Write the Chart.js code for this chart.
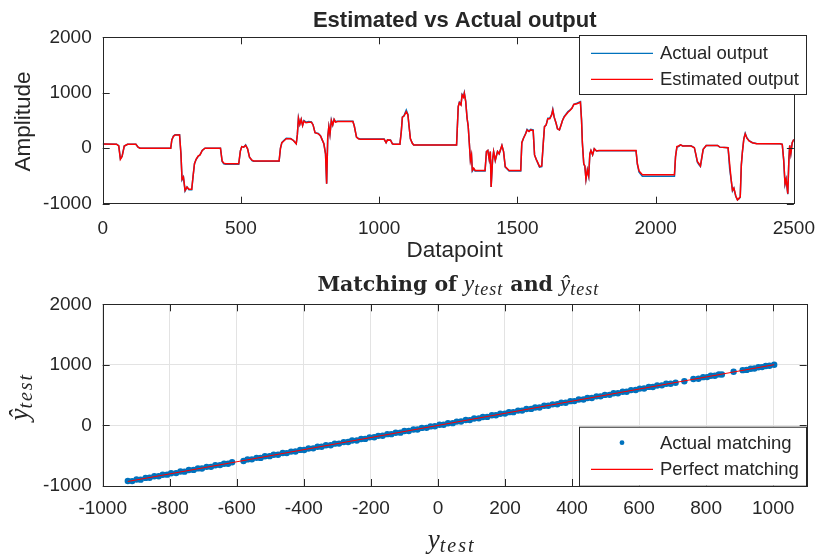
<!DOCTYPE html>
<html>
<head>
<meta charset="utf-8">
<script src="https://cdn.jsdelivr.net/npm/chart.js@4.4.1/dist/chart.umd.min.js"></script>
<style>
    html, body { margin: 0; padding: 0; background: #fff; }
    #wrap { position: relative; width: 829px; height: 554px; overflow: hidden; }
    canvas { position: absolute; left: 0; }
    #topChart { top: 0; }
    #bottomChart { top: 265px; }
</style>
</head>
<body>
<div id="wrap">
    <canvas id="topChart" width="829" height="265"></canvas>
    <canvas id="bottomChart" width="829" height="289"></canvas>
</div>
<script>
'use strict';

// ── Data ────────────────────────────────────────────────────────────────────
const sampleIndex = [
    0, 50, 58, 64, 70, 78, 90, 120, 128, 135, 246, 250, 256, 262, 278, 283, 287, 292, 298, 305,
    312, 322, 327, 332, 338, 345, 352, 360, 370, 426, 432, 438, 445, 492, 498, 503, 510, 517, 524, 531,
    540, 546, 638, 643, 648, 655, 664, 680, 690, 700, 704, 708, 713, 718, 723, 728, 735, 745, 755, 761,
    768, 780, 788, 794, 800, 806, 810, 814, 818, 822, 827, 832, 837, 842, 850, 905, 910, 918, 925, 932,
    1018, 1025, 1030, 1041, 1048, 1054, 1075, 1080, 1084, 1090, 1098, 1104, 1108, 1113, 1120, 1125, 1280, 1286, 1290, 1296,
    1300, 1305, 1308, 1313, 1318, 1322, 1326, 1330, 1334, 1337, 1342, 1347, 1383, 1388, 1393, 1398, 1402, 1405, 1410, 1414,
    1420, 1428, 1434, 1444, 1450, 1456, 1462, 1470, 1512, 1516, 1522, 1530, 1535, 1542, 1548, 1557, 1562, 1568, 1573, 1580,
    1588, 1594, 1598, 1604, 1610, 1617, 1624, 1628, 1633, 1640, 1645, 1652, 1658, 1663, 1669, 1675, 1683, 1690, 1697, 1704,
    1715, 1728, 1732, 1735, 1740, 1744, 1748, 1753, 1758, 1762, 1766, 1772, 1778, 1786, 1795, 1929, 1934, 1940, 1952, 2068,
    2072, 2077, 2083, 2090, 2098, 2110, 2128, 2140, 2146, 2151, 2157, 2162, 2166, 2172, 2183, 2224, 2232, 2262, 2268, 2273,
    2278, 2283, 2290, 2296, 2302, 2306, 2310, 2314, 2319, 2324, 2330, 2338, 2350, 2365, 2450, 2458, 2463, 2468, 2472, 2478,
    2482, 2485, 2489, 2494, 2500
];
const actualOutput = [
    75, 72, 45, -190, -150, 40, 72, 72, 20, 0, 0, 150, 220, 245, 245, -100, -570, -520, -770, -700,
    -750, -750, -500, -280, -200, -150, -120, -40, 0, 0, -240, -280, -290, -290, -50, 30, 20, 60, -10, -160,
    -225, -235, -235, 0, 100, 140, 180, 175, 140, 80, 240, 550, 430, 520, 410, 500, 470, 480, 475, 420,
    280, 265, 220, 150, 80, -100, -640, 200, 390, 250, 510, 420, 520, 480, 485, 485, 400, 200, 175, 165,
    165, 100, 150, 150, 80, 70, 70, 300, 560, 590, 690, 610, 400, 170, 90, 60, 60, 750, 830, 790,
    970, 930, 1000, 850, 540, 400, 100, -220, -130, -410, -370, -410, -410, -60, -40, -200, -60, -700, -220, -60,
    -220, -60, -100, 50, -60, -340, -370, -410, -410, 100, 180, 270, 340, 310, 340, 330, -120, -200, -260, -340,
    -330, 120, 390, 420, 540, 540, 610, 700, 560, 450, 350, 330, 420, 500, 570, 610, 660, 690, 720, 790,
    810, 840, 520, 100, -280, -330, -560, -390, -510, -100, -40, -120, -10, -50, -45, -45, -290, -430, -505, -505,
    -150, 20, 30, 60, 40, 45, 45, 10, -130, -250, -300, -330, -200, -20, 50, 50, 20, 10, -380, -560,
    -770, -720, -870, -930, -910, -880, -300, -60, 170, 270, 190, 135, 100, 85, 80, 70, -200, -650, -560, -830,
    -200, 50, -100, 100, 160
];
const estimatedOutput = [
    75, 72, 40, -200, -150, 40, 70, 70, 20, 0, 0, 150, 215, 240, 240, -100, -560, -520, -760, -700,
    -740, -740, -500, -280, -200, -140, -120, -40, 0, 0, -230, -270, -280, -280, -50, 30, 20, 50, -10, -160,
    -215, -230, -230, 0, 100, 130, 170, 170, 140, 80, 240, 540, 430, 520, 410, 490, 460, 470, 470, 420,
    280, 260, 220, 150, 80, -100, -640, 200, 390, 250, 500, 420, 520, 470, 480, 480, 400, 200, 170, 160,
    160, 100, 150, 145, 80, 70, 70, 300, 560, 580, 660, 600, 400, 170, 90, 60, 60, 750, 820, 780,
    960, 920, 990, 840, 540, 400, 100, -220, -120, -400, -360, -400, -400, -60, -40, -200, -60, -700, -220, -60,
    -220, -60, -100, 50, -60, -330, -360, -400, -400, 100, 180, 260, 330, 300, 330, 320, -120, -200, -250, -330,
    -320, 120, 390, 420, 530, 530, 600, 690, 560, 450, 350, 330, 420, 500, 560, 600, 650, 680, 720, 790,
    800, 830, 500, 100, -280, -320, -560, -390, -500, -100, -40, -120, -10, -50, -40, -40, -280, -410, -480, -480,
    -150, 30, 40, 60, 40, 40, 40, 10, -120, -240, -280, -320, -200, -20, 50, 50, 20, 10, -300, -560,
    -760, -720, -860, -930, -900, -880, -300, -60, 170, 260, 180, 130, 100, 80, 80, 70, -200, -640, -560, -820,
    -200, 50, -100, 100, 160
];
const indexTicks = [0, 500, 1000, 1500, 2000, 2500];
const amplitudeTicks = [-1000, 0, 1000, 2000];

const matchTest = [
    -925, -912, -899, -887, -872, -860, -846, -833, -821, -808, -796, -781, -768, -756, -743, -729, -716, -704, -690, -677,
    -664, -650, -638, -626, -614, -580, -568, -555, -541, -529, -516, -502, -490, -477, -463, -451, -438, -425, -411, -399,
    -386, -372, -359, -347, -334, -320, -308, -295, -281, -268, -256, -242, -229, -217, -204, -190, -178, -165, -151, -139,
    -126, -112, -100, -87, -73, -61, -48, -34, -22, -9, 5, 17, 30, 44, 56, 69, 83, 95, 108, 122,
    134, 147, 161, 173, 186, 200, 212, 225, 239, 251, 264, 278, 290, 303, 317, 329, 342, 356, 368, 381,
    395, 407, 420, 434, 446, 459, 473, 485, 498, 512, 524, 537, 551, 563, 576, 590, 602, 615, 629, 641,
    654, 668, 681, 694, 709, 735, 762, 777, 791, 803, 814, 826, 838, 847, 882, 909, 921, 933, 944, 956,
    967, 978, 989, 1003
];
const matchEst = [
    -918, -919, -893, -895, -866, -864, -838, -840, -815, -813, -789, -787, -761, -763, -737, -734, -709, -710, -684, -684,
    -657, -655, -632, -632, -608, -586, -561, -560, -535, -536, -509, -507, -484, -483, -456, -457, -432, -430, -404, -405,
    -380, -378, -352, -352, -328, -327, -301, -300, -275, -274, -249, -248, -223, -222, -197, -196, -172, -171, -144, -144,
    -120, -119, -93, -92, -67, -67, -41, -40, -16, -14, 12, 11, 36, 38, 63, 64, 89, 88, 115, 117,
    140, 141, 168, 167, 192, 195, 219, 219, 245, 245, 271, 273, 296, 296, 324, 324, 348, 350, 375, 375,
    401, 402, 427, 428, 452, 453, 480, 480, 504, 505, 531, 532, 557, 557, 583, 584, 608, 610, 636, 635,
    660, 662, 688, 689, 704, 729, 766, 771, 797, 798, 820, 821, 843, 842, 886, 913, 917, 937, 940, 960,
    963, 982, 985, 1001
];
const perfectLine = [-925, 1003];
const matchTicksX = [-1000, -800, -600, -400, -200, 0, 200, 400, 600, 800, 1000];
const matchTicksY = [-1000, 0, 1000, 2000];

// ── Styling ─────────────────────────────────────────────────────────────────
const INK = '#262626';
const BLUE = '#0072bd';
const RED = '#ff0000';
const SANS = '"Liberation Sans", Arial, sans-serif';
const MATH = '"Liberation Serif", "Times New Roman", serif';
const BOLD_SERIF = '"DejaVu Serif", serif';

Chart.defaults.font.family = SANS;
Chart.defaults.color = INK;

const plainNumber = v => String(v);   // MATLAB prints 2000, not 2,000

function drawRuns(ctx, runs, cx, base) {
    let w = 0;
    runs.forEach(r => {
        ctx.font = r.font;
        ctx.letterSpacing = r.sp ? r.sp + 'px' : '0px';
        r.w = ctx.measureText(r.text).width;
        w += r.w;
    });
    let x = cx - w / 2;
    ctx.textAlign = 'left';
    ctx.textBaseline = 'alphabetic';
    runs.forEach(r => {
        ctx.font = r.font;
        ctx.letterSpacing = r.sp ? r.sp + 'px' : '0px';
        ctx.fillText(r.text, x, base + (r.dy || 0));
        x += r.w;
    });
    ctx.letterSpacing = '0px';
}

function drawLegend(ctx, box, items) {
    ctx.fillStyle = '#fff';
    ctx.fillRect(box.x, box.y, box.w, box.h);
    ctx.strokeStyle = INK;
    ctx.lineWidth = 1;
    ctx.strokeRect(box.x + 0.5, box.y + 0.5, box.w, box.h);
    items.forEach(it => {
        if (it.kind === 'line') {
            ctx.strokeStyle = it.color;
            ctx.lineWidth = 1.2;
            ctx.beginPath();
            ctx.moveTo(box.x + 12, it.y);
            ctx.lineTo(box.x + 74, it.y);
            ctx.stroke();
        } else {
            ctx.fillStyle = it.color;
            ctx.beginPath();
            ctx.arc(box.x + 43, it.y, 2.4, 0, Math.PI * 2);
            ctx.fill();
        }
        ctx.fillStyle = INK;
        ctx.font = '18.5px ' + SANS;
        ctx.textAlign = 'left';
        ctx.textBaseline = 'middle';
        ctx.fillText(it.label, box.x + 81, it.y + 1);
    });
}

// box + inward ticks on all four sides, then legend and labels
const matlabAxes = {
    id: 'matlabAxes',
    afterDatasetsDraw(chart, args, opts) {
        const { ctx, chartArea: a, scales: { x, y } } = chart;
        ctx.save();
        ctx.strokeStyle = INK;
        ctx.lineWidth = 1;
        ctx.beginPath();
        x.ticks.forEach(t => {
            const px = Math.round(x.getPixelForValue(t.value)) + 0.5;
            ctx.moveTo(px, a.bottom); ctx.lineTo(px, a.bottom - 7);
            ctx.moveTo(px, a.top); ctx.lineTo(px, a.top + 7);
        });
        y.ticks.forEach(t => {
            const py = Math.round(y.getPixelForValue(t.value)) + 0.5;
            ctx.moveTo(a.left, py); ctx.lineTo(a.left + 7, py);
            ctx.moveTo(a.right, py); ctx.lineTo(a.right - 7, py);
        });
        ctx.stroke();
        ctx.strokeRect(Math.round(a.left) + 0.5, Math.round(a.top) + 0.5,
            Math.round(a.right - a.left), Math.round(a.bottom - a.top));
        drawLegend(ctx, opts.legendBox, opts.legendItems);
        ctx.fillStyle = INK;
        opts.labels(ctx);
        ctx.restore();
    }
};

function fixedScale(size, key) {
    return s => { s[key] = size; };
}

// ── Top: Estimated vs Actual output ─────────────────────────────────────────
new Chart(document.getElementById('topChart'), {
    type: 'line',
    data: {
        datasets: [
            {
                label: 'Estimated output',
                data: sampleIndex.map((t, i) => ({ x: t, y: estimatedOutput[i] })),
                borderColor: RED, borderWidth: 1.5, pointRadius: 0, tension: 0, order: 0
            },
            {
                label: 'Actual output',
                data: sampleIndex.map((t, i) => ({ x: t, y: actualOutput[i] })),
                borderColor: BLUE, borderWidth: 1.5, pointRadius: 0, tension: 0, order: 1
            }
        ]
    },
    options: {
        responsive: false, animation: false, devicePixelRatio: 1, events: [],
        layout: { padding: { left: 0, right: 22.3, top: 37.3, bottom: 0 } },
        plugins: {
            legend: { display: false }, tooltip: { enabled: false },
            matlabAxes: {
                legendBox: { x: 579, y: 35, w: 227, h: 59 },
                legendItems: [
                    { label: 'Actual output', color: BLUE, kind: 'line', y: 53.3 },
                    { label: 'Estimated output', color: RED, kind: 'line', y: 79.3 }
                ],
                labels(ctx) {
                    ctx.textAlign = 'center';
                    ctx.textBaseline = 'alphabetic';
                    ctx.font = 'bold 22px ' + SANS;
                    ctx.fillText('Estimated vs Actual output', 454.7, 26.7);
                    ctx.font = '22.5px ' + SANS;
                    ctx.fillText('Datapoint', 454.7, 257.3);
                    ctx.save();
                    ctx.translate(29.5, 121.5);
                    ctx.rotate(-Math.PI / 2);
                    ctx.fillText('Amplitude', 0, 0);
                    ctx.restore();
                }
            }
        },
        scales: {
            x: {
                type: 'linear', min: 0, max: 2500,
                afterBuildTicks: s => { s.ticks = indexTicks.map(v => ({ value: v })); },
                afterFit: fixedScale(61.3, 'height'),
                grid: { display: false, drawTicks: false }, border: { display: false },
                ticks: { font: { size: 19 }, color: INK, padding: 14, maxRotation: 0, callback: plainNumber }
            },
            y: {
                min: -1000, max: 2000,
                afterBuildTicks: s => { s.ticks = amplitudeTicks.map(v => ({ value: v })); },
                afterFit: fixedScale(102.7, 'width'),
                grid: { display: false, drawTicks: false }, border: { display: false },
                ticks: { font: { size: 19 }, color: INK, padding: 11, callback: plainNumber }
            }
        }
    },
    plugins: [matlabAxes]
});

// ── Bottom: Matching of y_test and ŷ_test ───────────────────────────────────
new Chart(document.getElementById('bottomChart'), {
    type: 'scatter',
    data: {
        datasets: [
            {
                label: 'Perfect matching',
                data: perfectLine.map(v => ({ x: v, y: v })),
                showLine: true, borderColor: RED, borderWidth: 1, pointRadius: 0, order: 0
            },
            {
                label: 'Actual matching',
                data: matchTest.map((v, i) => ({ x: v, y: matchEst[i] })),
                backgroundColor: BLUE, borderWidth: 0, pointRadius: 3.2, order: 1
            }
        ]
    },
    options: {
        responsive: false, animation: false, devicePixelRatio: 1, events: [],
        layout: { padding: { left: 0, right: 22.3, top: 39.3, bottom: 0 } },
        plugins: {
            legend: { display: false }, tooltip: { enabled: false },
            matlabAxes: {
                legendBox: { x: 579, y: 161.7, w: 227, h: 59 },
                legendItems: [
                    { label: 'Actual matching', color: BLUE, kind: 'dot', y: 177.7 },
                    { label: 'Perfect matching', color: RED, kind: 'line', y: 204.3 }
                ],
                labels(ctx) {
                    const bold = 'bold 20.5px ' + BOLD_SERIF;
                    const it = 'italic 23px ' + MATH;
                    const sub = 'italic 18px ' + MATH;
                    drawRuns(ctx, [
                        { text: 'Matching of ', font: bold },
                        { text: 'y', font: it },
                        { text: 'test', font: sub, dy: 4, sp: 1 },
                        { text: ' and ', font: bold },
                        { text: 'ŷ', font: it },
                        { text: 'test', font: sub, dy: 4, sp: 1 }
                    ], 458.3, 26);
                    const big = 'italic 27px ' + MATH;
                    const bigSub = 'italic 20px ' + MATH;
                    drawRuns(ctx, [
                        { text: 'y', font: big },
                        { text: 'test', font: bigSub, dy: 4, sp: 2 }
                    ], 451.7, 282.5);
                    ctx.save();
                    ctx.translate(28.3, 131.7);
                    ctx.rotate(-Math.PI / 2);
                    drawRuns(ctx, [
                        { text: 'ŷ', font: big },
                        { text: 'test', font: bigSub, dy: 4, sp: 2 }
                    ], 0, 0);
                    ctx.restore();
                }
            }
        },
        scales: {
            x: {
                type: 'linear', min: -1000, max: 1100,
                afterBuildTicks: s => { s.ticks = matchTicksX.map(v => ({ value: v })); },
                afterFit: fixedScale(68, 'height'),
                grid: { color: '#e3e3e3', drawTicks: false }, border: { display: false },
                ticks: { font: { size: 19 }, color: INK, padding: 11.5, maxRotation: 0, callback: plainNumber }
            },
            y: {
                min: -1000, max: 2000,
                afterBuildTicks: s => { s.ticks = matchTicksY.map(v => ({ value: v })); },
                afterFit: fixedScale(102.7, 'width'),
                grid: { color: '#e3e3e3', drawTicks: false }, border: { display: false },
                ticks: { font: { size: 19 }, color: INK, padding: 11, callback: plainNumber }
            }
        }
    },
    plugins: [matlabAxes]
});
</script>
</body>
</html>
